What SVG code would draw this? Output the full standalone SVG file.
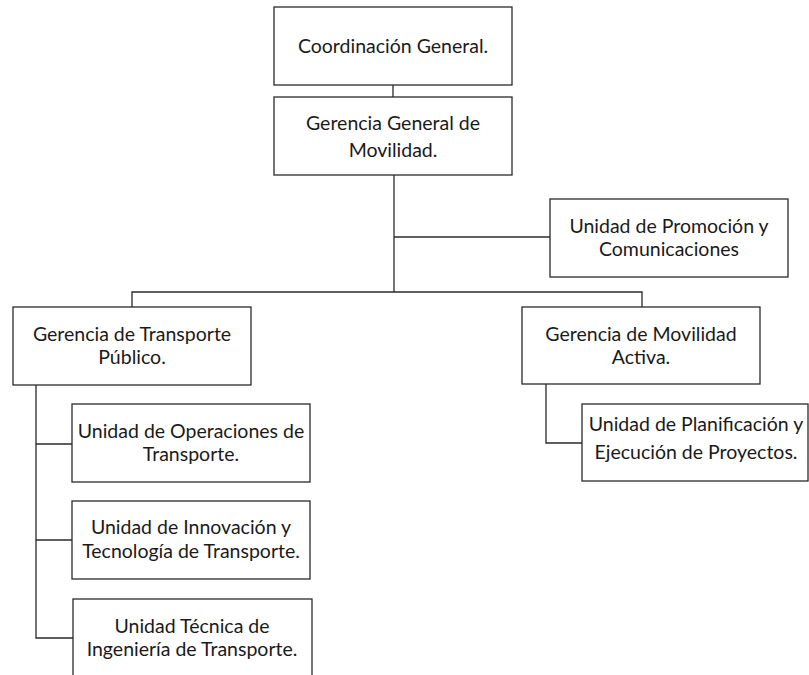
<svg xmlns="http://www.w3.org/2000/svg" width="809" height="675" viewBox="0 0 809 675">
<style>
.box{fill:#fff;stroke:#2a2a2a;stroke-width:1.3}
.t{font-family:Lato,"Open Sans","Liberation Sans",sans-serif;font-size:19.5px;fill:#1a1a1a;text-anchor:middle}
.c{fill:none;stroke:#2a2a2a;stroke-width:1.3}
</style>
<rect width="809" height="675" fill="#fff"/>
<g id="connectors">
<path class="c" d="M393,85V97"/>
<path class="c" d="M394,175V292"/>
<path class="c" d="M394,237H550"/>
<path class="c" d="M132,307V292H642V307"/>
<path class="c" d="M36,385V638H73"/>
<path class="c" d="M36,444H72"/>
<path class="c" d="M36,540H72"/>
<path class="c" d="M546,384V443H582"/>
</g>
<g id="n1"><rect class="box" x="274" y="7" width="238" height="78"/><text class="t" x="393" y="53">Coordinación General.</text></g>
<g id="n2"><rect class="box" x="274" y="97" width="238" height="78"/><text class="t" x="393" y="130">Gerencia General de</text><text class="t" x="393" y="157">Movilidad.</text></g>
<g id="n3"><rect class="box" x="550" y="199" width="238" height="78"/><text class="t" x="669" y="233">Unidad de Promoción y</text><text class="t" x="669" y="256">Comunicaciones</text></g>
<g id="n4"><rect class="box" x="13" y="307" width="238" height="78"/><text class="t" x="132" y="341">Gerencia de Transporte</text><text class="t" x="132" y="364">Público.</text></g>
<g id="n5"><rect class="box" x="522" y="307" width="238" height="77"/><text class="t" x="641" y="341">Gerencia de Movilidad</text><text class="t" x="641" y="364">Activa.</text></g>
<g id="n6"><rect class="box" x="72" y="404" width="238" height="78"/><text class="t" x="191" y="438">Unidad de Operaciones de</text><text class="t" x="191" y="461">Transporte.</text></g>
<g id="n7"><rect class="box" x="72" y="501" width="238" height="78"/><text class="t" x="191" y="534">Unidad de Innovación y</text><text class="t" x="191" y="558">Tecnología de Transporte.</text></g>
<g id="n8"><rect class="box" x="73" y="599" width="239" height="90"/><text class="t" x="192" y="633">Unidad Técnica de</text><text class="t" x="192" y="656">Ingeniería de Transporte.</text></g>
<g id="n9"><rect class="box" x="582" y="404" width="226" height="77"/><text class="t" x="696" y="431">Unidad de Planificación y</text><text class="t" x="696" y="459">Ejecución de Proyectos.</text></g>
</svg>
